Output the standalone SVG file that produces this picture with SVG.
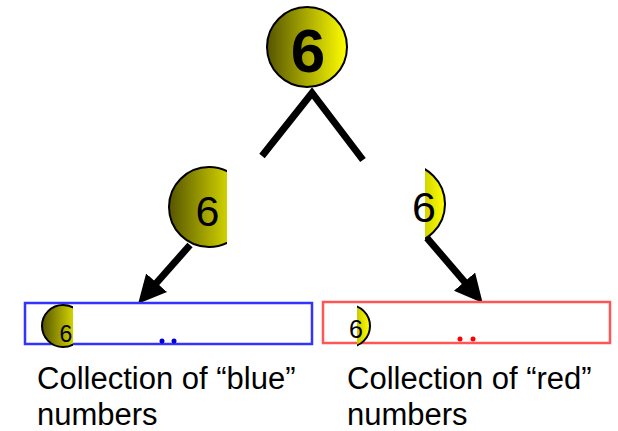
<svg xmlns="http://www.w3.org/2000/svg" width="618" height="431" viewBox="0 0 618 431">
  <style>
    .ball { stroke: #000; stroke-width: 2; fill: url(#g); }
    .num { font-family: "Liberation Sans", Arial, sans-serif; fill: #000; text-anchor: middle; }
    .lbl { font-family: "Liberation Sans", Arial, sans-serif; font-size: 31px; fill: #000; }
    .conn { stroke: #000; stroke-width: 7; fill: none; }
  </style>
  <defs>
    <linearGradient id="g" x1="0" y1="0" x2="1" y2="0">
      <stop offset="0" stop-color="#555500"/>
      <stop offset="1" stop-color="#ffff00"/>
    </linearGradient>
    <clipPath id="cL"><rect x="0" y="150" width="227" height="110"/></clipPath>
    <clipPath id="cR"><rect x="425" y="150" width="100" height="110"/></clipPath>
    <clipPath id="cB"><rect x="0" y="300" width="73" height="60"/></clipPath>
    <clipPath id="cRs"><rect x="357" y="300" width="40" height="60"/></clipPath>
    <marker id="ah" markerWidth="4" markerHeight="4" refX="1" refY="2" orient="auto" markerUnits="strokeWidth" viewBox="0 0 4 4">
      <path d="M0,0 L4,2 L0,4 Z" fill="#000"/>
    </marker>
  </defs>

  <g id="connectors">
    <polyline class="conn" points="262,156 312,93 363,160" stroke-width="8" stroke-linejoin="miter"/>
    <line class="conn" x1="190" y1="245" x2="152" y2="288" marker-end="url(#ah)"/>
    <line class="conn" x1="427" y1="238" x2="469" y2="287" marker-end="url(#ah)"/>
  </g>

  <g id="root">
    <circle class="ball" cx="307" cy="47" r="40"/>
    <text class="num" x="308" y="72" font-size="62" font-weight="bold">6</text>
  </g>

  <g id="left">
    <circle class="ball" cx="209" cy="207" r="40" clip-path="url(#cL)"/>
    <text class="num" x="207.5" y="226" font-size="43">6</text>
  </g>

  <g id="right">
    <circle class="ball" cx="405" cy="204" r="40" clip-path="url(#cR)"/>
    <text class="num" x="424" y="222" font-size="43">6</text>
  </g>

  <g id="blue-collection">
    <rect x="25" y="303" width="287" height="41" fill="none" stroke="#3333ff" stroke-width="2.5"/>
    <circle class="ball" cx="63" cy="326" r="21" clip-path="url(#cB)"/>
    <text class="num" x="66" y="342" font-size="23">6</text>
    <circle cx="162" cy="341" r="2.5" fill="#0000dd"/>
    <circle cx="174" cy="341" r="2.5" fill="#0000dd"/>
    <text class="lbl" x="37" y="389">Collection of “blue”</text>
    <text class="lbl" x="37" y="425">numbers</text>
  </g>

  <g id="red-collection">
    <rect x="323" y="302" width="287" height="41" fill="none" stroke="#ff5555" stroke-width="2.5"/>
    <circle class="ball" cx="349" cy="326" r="21" clip-path="url(#cRs)"/>
    <text class="num" x="356" y="338" font-size="25">6</text>
    <circle cx="460" cy="339" r="2.5" fill="#ff0000"/>
    <circle cx="473" cy="339" r="2.5" fill="#ff0000"/>
    <text class="lbl" x="347" y="389">Collection of “red”</text>
    <text class="lbl" x="347" y="425">numbers</text>
  </g>
</svg>
